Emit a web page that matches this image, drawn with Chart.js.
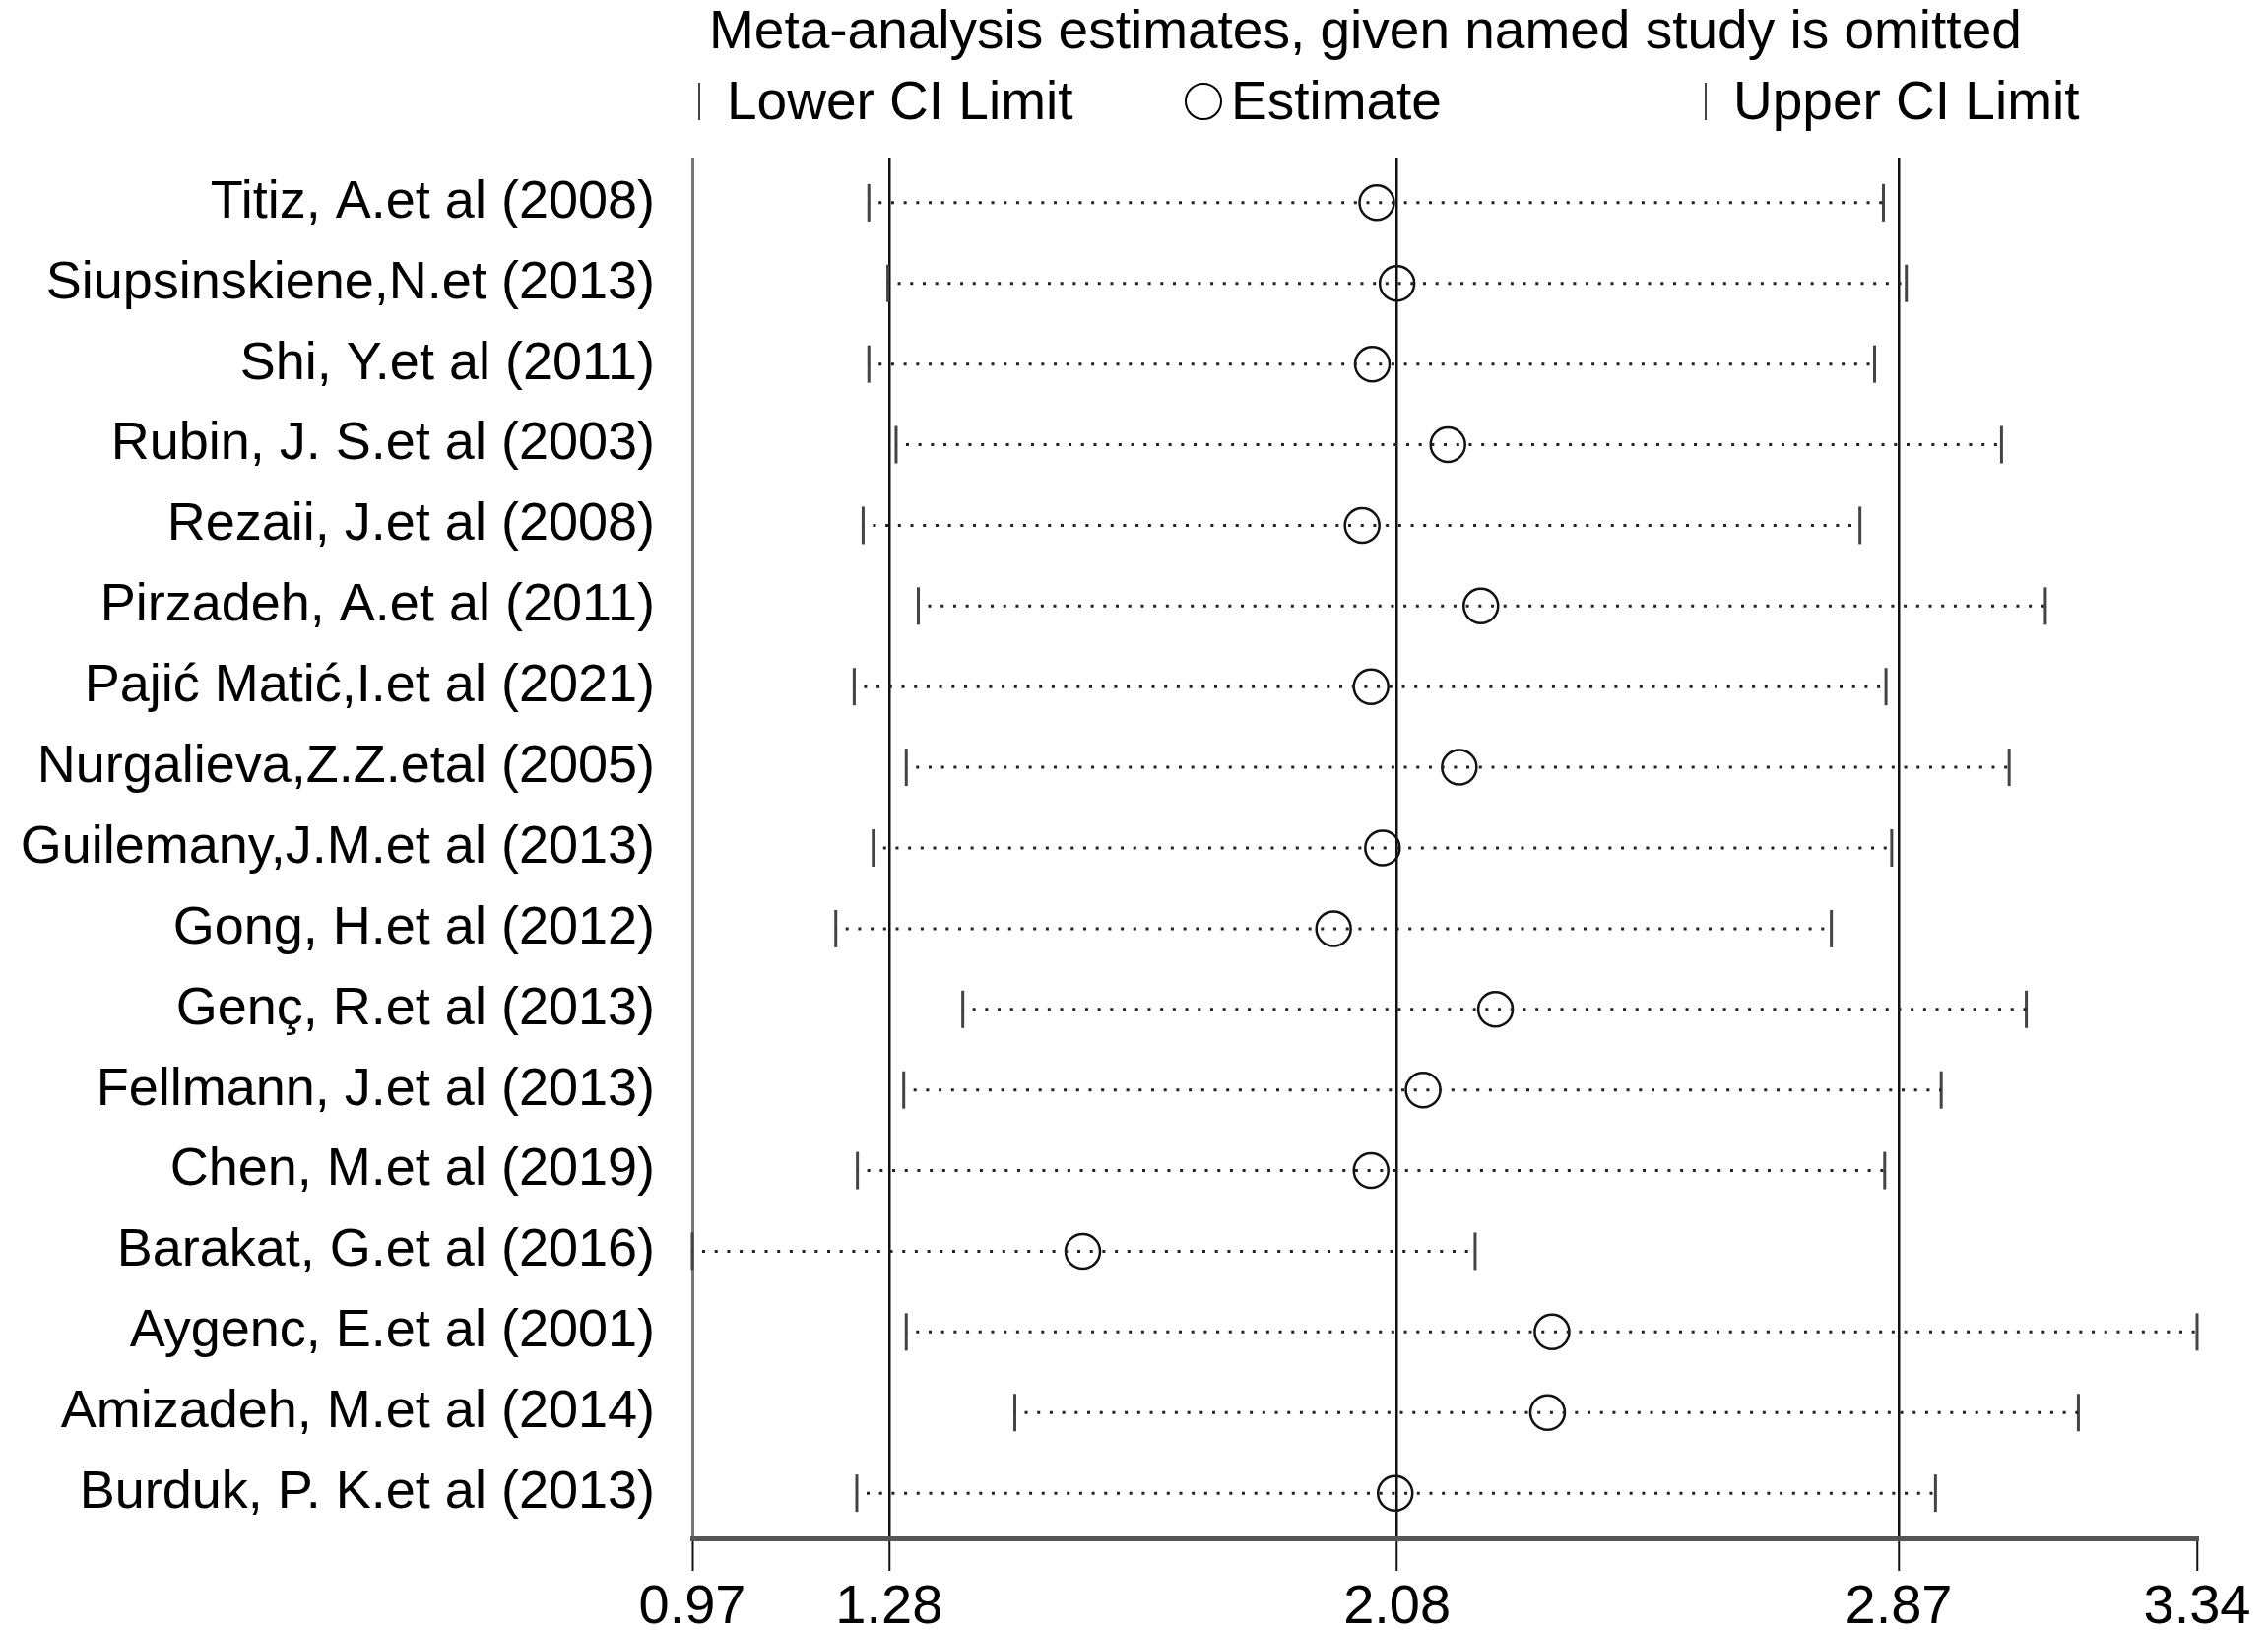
<!DOCTYPE html>
<html>
<head>
<meta charset="utf-8">
<script src="https://cdn.jsdelivr.net/npm/chart.js@4.4.1/dist/chart.umd.min.js"></script>
<style>
  html, body { margin: 0; padding: 0; background: #fff; }
  #wrap { width: 2303px; height: 1655px; position: relative; }
</style>
</head>
<body>
<div id="wrap"><canvas id="chart"></canvas></div>
<script>
// studies, top to bottom
const studies = [
    'Titiz, A.et al (2008)',
    'Siupsinskiene,N.et (2013)',
    'Shi, Y.et al (2011)',
    'Rubin, J. S.et al (2003)',
    'Rezaii, J.et al (2008)',
    'Pirzadeh, A.et al (2011)',
    'Pajić Matić,I.et al (2021)',
    'Nurgalieva,Z.Z.etal (2005)',
    'Guilemany,J.M.et al (2013)',
    'Gong, H.et al (2012)',
    'Genç, R.et al (2013)',
    'Fellmann, J.et al (2013)',
    'Chen, M.et al (2019)',
    'Barakat, G.et al (2016)',
    'Aygenc, E.et al (2001)',
    'Amizadeh, M.et al (2014)',
    'Burduk, P. K.et al (2013)'
];
const lowerCI   = [1.248, 1.278, 1.248, 1.291, 1.239, 1.326, 1.225, 1.307, 1.255, 1.196, 1.396, 1.303, 1.230, 0.970, 1.307, 1.478, 1.229];
const estimates = [2.048, 2.080, 2.041, 2.160, 2.025, 2.212, 2.039, 2.178, 2.057, 1.980, 2.235, 2.121, 2.039, 1.585, 2.324, 2.317, 2.077];
const upperCI   = [2.846, 2.882, 2.832, 3.032, 2.809, 3.101, 2.850, 3.044, 2.859, 2.764, 3.071, 2.937, 2.848, 2.203, 3.340, 3.153, 2.928];

const xTickValues = [0.97, 1.28, 2.08, 2.87, 3.34];
const xTickLabels = ['0.97', '1.28', '2.08', '2.87', '3.34'];
const refLines = [1.28, 2.08, 2.87];

const titleText = 'Meta-analysis estimates, given named study is omitted';
const legendLabels = ['Lower CI Limit', 'Estimate', 'Upper CI Limit'];

const FONT = "'Liberation Sans', Arial, Helvetica, sans-serif";

// dotted CI segments, one dataset with gaps between rows
const segData = [];
studies.forEach((s, i) => {
    segData.push({ x: lowerCI[i], y: i });
    segData.push({ x: upperCI[i], y: i });
    segData.push({ x: upperCI[i], y: null });
});

// title + legend drawn above the plot
const headerPlugin = {
    id: 'header',
    afterDraw(chart) {
        const ctx = chart.ctx;
        ctx.save();
        ctx.fillStyle = '#000';
        ctx.textBaseline = 'alphabetic';
        ctx.textAlign = 'left';
        ctx.font = '55px ' + FONT;
        ctx.fillText(titleText, 720, 49);

        ctx.strokeStyle = '#444';
        ctx.lineWidth = 2;
        // lower CI symbol
        ctx.beginPath(); ctx.moveTo(710, 84); ctx.lineTo(710, 122); ctx.stroke();
        ctx.fillText(legendLabels[0], 738, 121);
        // estimate symbol
        ctx.strokeStyle = '#000';
        ctx.beginPath(); ctx.arc(1222, 103, 18, 0, Math.PI * 2); ctx.stroke();
        ctx.fillText(legendLabels[1], 1250, 121);
        // upper CI symbol
        ctx.strokeStyle = '#444';
        ctx.beginPath(); ctx.moveTo(1732, 84); ctx.lineTo(1732, 122); ctx.stroke();
        ctx.fillText(legendLabels[2], 1760, 121);
        ctx.restore();
    }
};

const ctx = document.getElementById('chart').getContext('2d');
const chart = new Chart(ctx, {
    type: 'scatter',
    data: {
        datasets: [
            {
                type: 'line',
                data: segData,
                borderColor: '#222',
                borderWidth: 3,
                borderDash: [3, 9.7],
                borderDashOffset: -10,
                pointRadius: 0,
                spanGaps: false,
                fill: false,
                clip: false
            },
            {
                data: lowerCI.map((v, i) => ({ x: v, y: i })),
                pointStyle: 'line',
                rotation: 90,
                radius: 19,
                borderColor: '#444',
                borderWidth: 3,
                clip: false
            },
            {
                data: upperCI.map((v, i) => ({ x: v, y: i })),
                pointStyle: 'line',
                rotation: 90,
                radius: 19,
                borderColor: '#444',
                borderWidth: 3,
                clip: false
            },
            {
                data: estimates.map((v, i) => ({ x: v, y: i })),
                pointStyle: 'circle',
                radius: 17.5,
                backgroundColor: 'rgba(0,0,0,0)',
                borderColor: '#111',
                borderWidth: 2.5,
                clip: false
            }
        ]
    },
    options: {
        responsive: true,
        maintainAspectRatio: false,
        animation: false,
        events: [],
        layout: { padding: { top: 160, right: 72, left: 0, bottom: 0 } },
        plugins: {
            legend: { display: false },
            title: { display: false },
            tooltip: { enabled: false }
        },
        scales: {
            x: {
                type: 'linear',
                min: 0.97,
                max: 3.34,
                afterBuildTicks(scale) {
                    scale.ticks = xTickValues.map(v => ({ value: v }));
                },
                afterFit(scale) {
                    scale.height = 93;
                },
                ticks: {
                    autoSkip: false,
                    maxRotation: 0,
                    padding: 4,
                    color: '#000',
                    font: { family: FONT, size: 56 },
                    callback: (v) => {
                        const k = xTickValues.findIndex(t => Math.abs(t - v) < 1e-6);
                        return k >= 0 ? xTickLabels[k] : '';
                    }
                },
                grid: {
                    drawTicks: true,
                    tickLength: 33,
                    tickColor: '#111',
                    tickWidth: 2,
                    color: (c) => {
                        const v = c.tick ? c.tick.value : null;
                        if (v === null) return 'rgba(0,0,0,0)';
                        if (Math.abs(v - xTickValues[0]) < 1e-6) return '#777';
                        return refLines.some(r => Math.abs(r - v) < 1e-6) ? '#111' : 'rgba(0,0,0,0)';
                    },
                    lineWidth: (c) => (c.tick && Math.abs(c.tick.value - xTickValues[0]) < 1e-6) ? 3 : 2.5
                },
                border: { display: true, color: '#555', width: 5 }
            },
            y: {
                type: 'linear',
                min: -0.56,
                max: 16.56,
                reverse: true,
                afterBuildTicks(scale) {
                    scale.ticks = studies.map((s, i) => ({ value: i }));
                },
                afterFit(scale) {
                    scale.width = 703;
                },
                ticks: {
                    autoSkip: false,
                    padding: 38,
                    color: '#000',
                    font: { family: FONT, size: 54 },
                    callback: (v) => studies[Math.round(v)] || ''
                },
                grid: { display: false, drawTicks: false },
                border: { display: false }
            }
        }
    },
    plugins: [headerPlugin]
});
</script>
</body>
</html>
